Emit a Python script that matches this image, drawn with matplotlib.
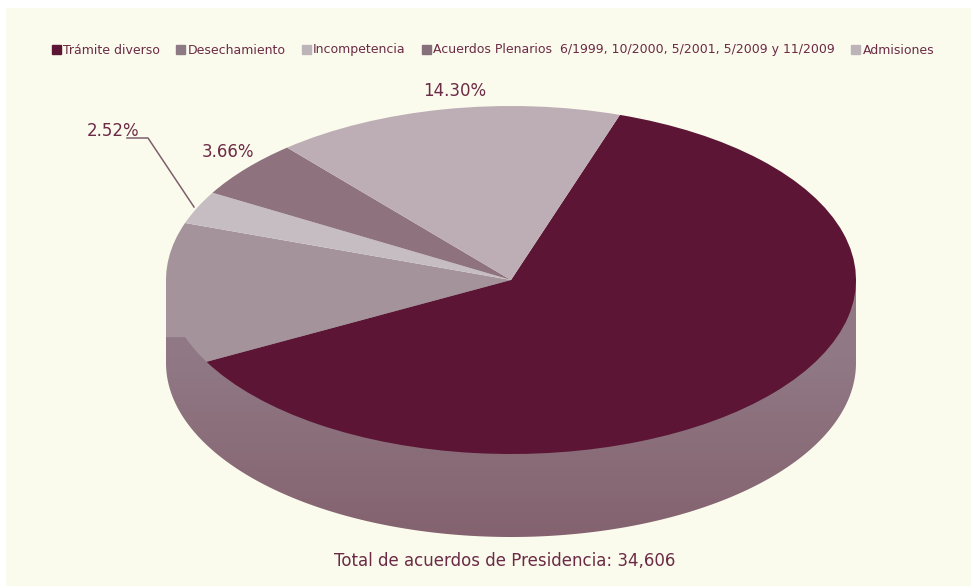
import numpy as np
import matplotlib
matplotlib.use("Agg")
import matplotlib.pyplot as plt
from matplotlib.colors import to_rgb
from matplotlib.patches import Patch, Polygon

# etiquetas y categorias
categorias = ["Trámite diverso", "Desechamiento", "Incompetencia",
              "Acuerdos Plenarios  6/1999, 10/2000, 5/2001, 5/2009 y 11/2009", "Admisiones"]
etiquetas = ["71.50%", "8.02%", "2.52%", "3.66%", "14.30%"]
# tamano aparente de cada rebanada en el dibujo (la perspectiva lo deforma)
rebanadas = [62.1, 13.1, 3.05, 5.4, 16.35]
colores = ["#5c1535", "#a4939a", "#c6bdc3", "#8e727e", "#bdaeb6"]
colores_leyenda = ["#5c1535", "#8e7a84", "#bdb4ba", "#85707c", "#bdb4ba"]
texto = "#6b2a45"

W, H = 971, 586
fig = plt.figure(figsize=(W / 100, H / 100), dpi=100, facecolor="white")

# fondo crema
bg = fig.add_axes([0, 0, 1, 1])
bg.set_xlim(0, W)
bg.set_ylim(H, 0)
bg.axis("off")
bg.add_patch(plt.Rectangle((6, 8), W - 6, H - 8, color="#fbfbed", lw=0, zorder=0))

# costado del cilindro con degradado (mas claro arriba a la izquierda)
cx, cy, a, b, prof = 511, 280, 345, 174, 83
t = np.linspace(np.pi, 0, 200)
xs = cx + a * np.cos(t)
ys = cy + prof + b * np.sin(t)
costado = Polygon(np.r_[[[cx - a, cy]], np.c_[xs, ys], [[cx + a, cy]]], closed=True,
                  transform=bg.transData, lw=0, fc="none")
bg.add_patch(costado)
v = np.linspace(0, 1, 256)[:, None, None]
u = np.linspace(0, 1, 128)[None, :, None]
claro = np.array(to_rgb("#a4939a"))
medio = np.array(to_rgb("#90798a")) * 0.5 + np.array(to_rgb("#90797f")) * 0.5
oscuro = np.array(to_rgb("#84626f"))
arriba = np.where(u < 0.3, claro, medio)
arriba = np.where(v < 0.22, arriba, medio)
abajo = medio + (oscuro - medio) * np.clip((v - 0.3) / 0.7, 0, 1)
rgb = np.where(v < 0.24, arriba, abajo)
img = bg.imshow(rgb, aspect="auto", zorder=2, extent=(cx - a, cx + a, cy + prof + b, cy))
img.set_clip_path(costado)
bg.set_xlim(0, W)
bg.set_ylim(H, 0)

# tapa del pastel
ax = fig.add_axes([(cx - a) / W, 1 - (cy + b) / H, 2 * a / W, 2 * b / H])
ax.pie(rebanadas, colors=colores, startangle=71.6, counterclock=False, radius=1,
       wedgeprops={"linewidth": 0})
ax.set_aspect("auto")
ax.set_xlim(-1, 1)
ax.set_ylim(-1, 1)

# porcentajes
pos = [(697, 282), (226, 282), (113, 131), (228, 152), (455, 91)]
for e, p in zip(etiquetas, pos):
    c = "#f1ecec" if e in ("71.50%", "8.02%") else texto
    bg.text(p[0], p[1], e, color=c, fontsize=12, ha="center", va="center", zorder=5)
bg.plot([127, 148, 194], [138, 138, 207], color="#7d5f6c", lw=1.1, zorder=5)

bg.text(505, 561, "Total de acuerdos de Presidencia: 34,606", color=texto, fontsize=12,
        ha="center", va="center")

handles = [Patch(color=c) for c in colores_leyenda]
fig.legend(handles, categorias, ncol=5, frameon=False, fontsize=9, labelcolor=texto,
           loc="center", bbox_to_anchor=(493 / W, 1 - 50 / H), handlelength=0.7, handleheight=0.7,
           handletextpad=0.2, columnspacing=1.3, borderpad=0, borderaxespad=0)

plt.savefig("out.png", dpi=100, facecolor="white")
